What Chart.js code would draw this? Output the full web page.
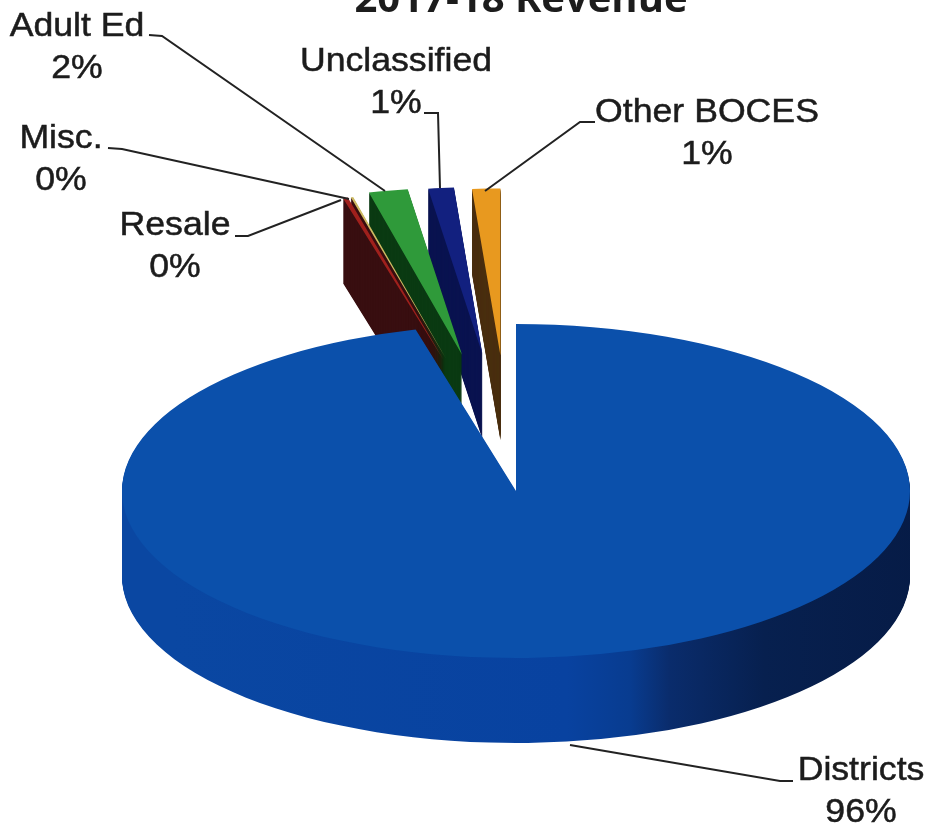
<!DOCTYPE html>
<html>
<head>
<meta charset="utf-8">
<style>html,body{margin:0;padding:0;background:#fff}canvas{display:block}</style>
<script src="https://cdn.jsdelivr.net/npm/chart.js@4/dist/chart.umd.js"></script>
</head>
<body>
<canvas id="c" width="930" height="825"></canvas>
<script>
const categories = ["Districts", "Resale", "Misc.", "Adult Ed", "Unclassified", "Other BOCES"];
const shares = [95.9, 0.2, 0.1, 1.6, 1.05, 1.15];
const chartTitle = "2017-18 Revenue";

const topColors = ["#0b50ab", "#a0201c", "#cdbb62", "#2f9a3a", "#12207f", "#e8991f"];
const wallColors = [null, "#380e10", "#380e10", "#0a3a12", "#0a1350", "#4a2f10"];
const drawOrder = [5, 4, 3, 2, 1, 0];
const sliceNudge = [[0,0],[7,0],[7,0],[6,-3],[0,-2],[-4,0]];

const labelLayout = [
  {x: 861, y: 780, lead: [[793,781],[780,781],[570,745]]},
  {x: 175, y: 235, lead: [[235,236],[248,236],[341,200]]},
  {x: 61,  y: 148, lead: [[108,148],[122,149],[349,199]]},
  {x: 77,  y: 36,  lead: [[149,35],[162,36],[385,191]]},
  {x: 396, y: 71,  lead: [[424,113],[438,113],[440,188]]},
  {x: 707, y: 122, lead: [[595,122],[580,122],[485,191]]}
];

const pie3d = {
  id: "pie3d",
  beforeDatasetsDraw(chart, args, o) {
    const ctx = chart.ctx;
    const arcs = chart.getDatasetMeta(0).data;
    const k = o.ry / o.rx;
    const wallGrad = ctx.createLinearGradient(o.cx - o.rx, 0, o.cx + o.rx, 0);
    wallGrad.addColorStop(0, "#0a47a2");
    wallGrad.addColorStop(0.5, "#0842a0");
    wallGrad.addColorStop(0.58, "#083c90");
    wallGrad.addColorStop(0.63, "#0a2c6c");
    wallGrad.addColorStop(0.75, "#07204f");
    wallGrad.addColorStop(1, "#061a44");
    const place = (i, arc, dy, explode) => {
      const mid = (arc.startAngle + arc.endAngle) / 2;
      ctx.translate(o.cx + sliceNudge[i][0], o.cy + sliceNudge[i][1] + dy);
      ctx.scale(1, k);
      ctx.translate(-arc.x + Math.cos(mid) * explode, -arc.y + Math.sin(mid) * explode);
    };
    drawOrder.forEach(i => {
      const arc = arcs[i];
      const explode = i === 0 ? 0 : o.explode;
      const wall = Object.create(arc);
      wall.options = Object.assign({}, arc.options, {backgroundColor: i === 0 ? wallGrad : wallColors[i]});
      for (let d = o.depth; d >= 1; d--) {
        ctx.save();
        place(i, arc, d, explode);
        wall.draw(ctx);
        ctx.restore();
      }
      ctx.save();
      place(i, arc, 0, explode);
      arc.draw(ctx);
      ctx.restore();
    });
    return false;
  },
  afterDraw(chart) {
    const ctx = chart.ctx;
    const put = (text, x, y) => {
      ctx.save();
      ctx.translate(x, y);
      ctx.scale(1.08, 1);
      ctx.fillText(text, 0, 0);
      ctx.strokeText(text, 0, 0);
      ctx.restore();
    };
    ctx.save();
    ctx.fillStyle = "#1c1c1c";
    ctx.textAlign = "center";
    ctx.font = 'bold 40px "Open Sans"';
    ctx.fillText(chartTitle, 521, 12);
    ctx.font = '33px "Liberation Sans"';
    ctx.strokeStyle = "#1c1c1c";
    ctx.lineWidth = 0.5;
    categories.forEach((name, i) => {
      const l = labelLayout[i];
      put(name, l.x, l.y);
      put(Math.round(shares[i]) + "%", l.x, l.y + 42);
    });
    ctx.strokeStyle = "#222";
    ctx.lineWidth = 2;
    labelLayout.forEach(l => {
      ctx.beginPath();
      l.lead.forEach((p, j) => j ? ctx.lineTo(p[0], p[1]) : ctx.moveTo(p[0], p[1]));
      ctx.stroke();
    });
    ctx.restore();
  }
};

new Chart(document.getElementById("c"), {
  type: "pie",
  data: {
    labels: categories,
    datasets: [{data: shares, backgroundColor: topColors, borderWidth: 0}]
  },
  options: {
    responsive: false,
    animation: false,
    radius: 394,
    layout: {padding: 0},
    plugins: {
      legend: {display: false},
      tooltip: {enabled: false},
      title: {display: false},
      pie3d: {cx: 516, cy: 491, rx: 394, ry: 167, depth: 85, explode: 320}
    }
  },
  plugins: [pie3d]
});
</script>
</body>
</html>
